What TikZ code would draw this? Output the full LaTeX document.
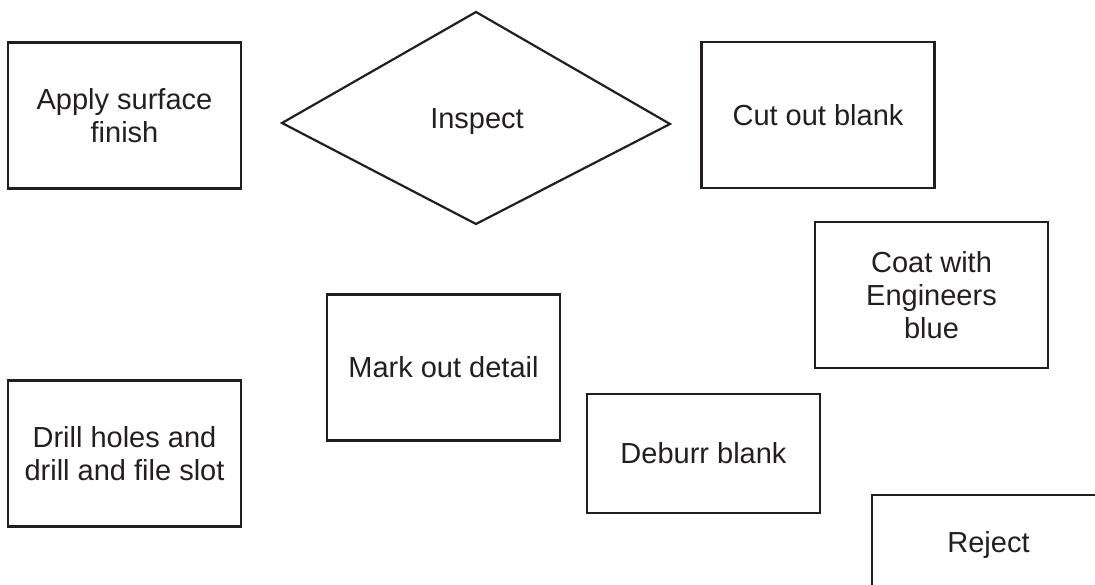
\documentclass[tikz,border=0pt]{standalone}
\usepackage{fontspec}
\setmainfont{Liberation Sans}
\definecolor{ink}{HTML}{231F20}
\tikzset{
  stepbox/.style={draw=ink, line width=2.2pt, text=ink, align=center,
    minimum width=233pt, minimum height=146pt, inner sep=0pt,
    font=\fontsize{29}{33}\selectfont},
  decision/.style={draw=ink, line width=2.2pt, line join=miter},
  label/.style={text=ink, inner sep=0pt, font=\fontsize{29}{33}\selectfont}
}
\begin{document}
\begin{tikzpicture}[x=1pt, y=-1pt]
  \useasboundingbox (0,0) rectangle (1095,585);
  \fill[white] (0,0) rectangle (1095,585);

  % process steps
  \node[stepbox] (finish) at (124.5,115.5) {Apply surface\\finish};
  \node[stepbox] (cut)    at (818,115)     {Cut out blank};
  \node[stepbox] (coat)   at (931.5,295)   {Coat with\\Engineers\\blue};
  \node[stepbox] (mark)   at (443.5,367.5) {Mark out detail};
  \node[stepbox] (drill)  at (124.5,453.5) {Drill holes and\\drill and file slot};
  \node[stepbox, minimum height=119pt] (deburr) at (703.5,453.5) {Deburr blank};
  \node[stepbox, minimum height=100pt] (reject) at (988.5,545)   {Reject};

  % decision
  \draw[decision] (476,12) -- (670,124) -- (476,224) -- (282,123) -- cycle;
  \node[label] (inspect) at (477,122) {Inspect};
\end{tikzpicture}
\end{document}
